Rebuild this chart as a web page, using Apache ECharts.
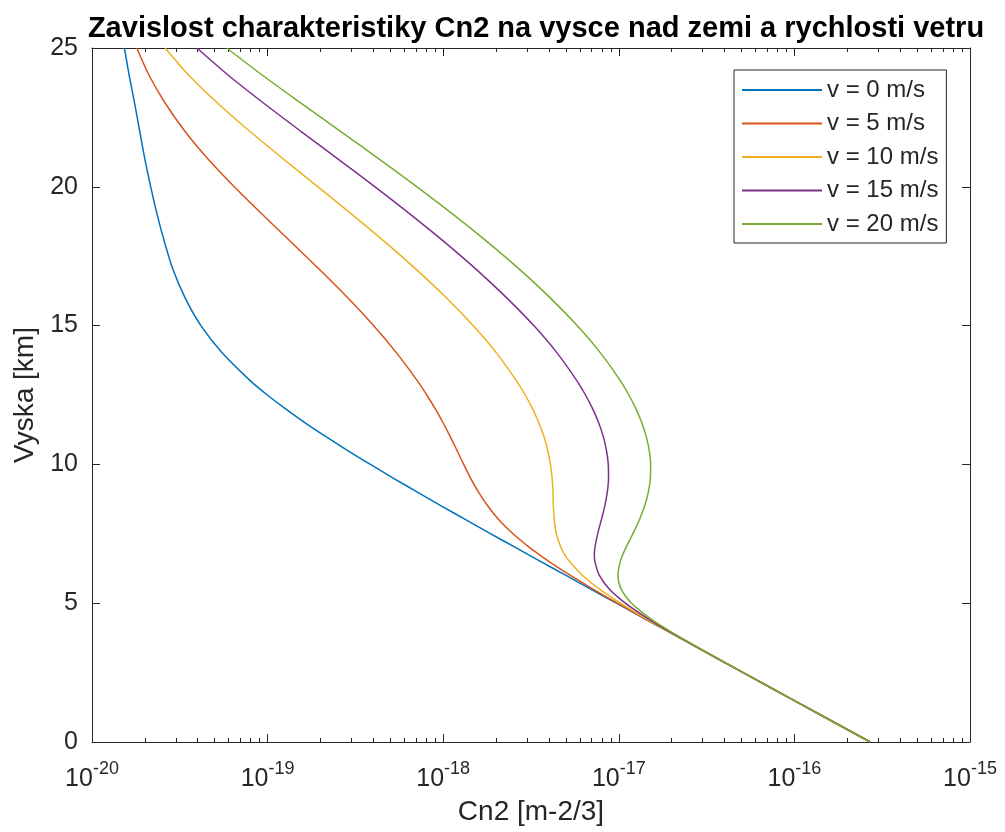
<!DOCTYPE html>
<html>
<head>
<meta charset="utf-8">
<script src="https://cdn.jsdelivr.net/npm/echarts@6/dist/echarts.min.js"></script>
<style>
  html, body { margin: 0; padding: 0; background: #fff; }
  #chart { width: 1005px; height: 832px; }
</style>
</head>
<body>
<div id="chart"></div>
<script>
// vyska nad zemi [km]
const heights = [0, 1, 2, 3, 4, 4.5, 5, 5.5, 6, 6.5, 6.75, 7, 7.5, 8, 8.5, 9, 9.5, 10, 10.5, 11, 11.5,
  12, 12.5, 13, 14, 15, 16, 17, 18, 19, 20, 21, 22, 23, 24, 25]

// Cn2 [m-2/3] pro jednotlive rychlosti vetru
const cn2V0 = [2.70e-16, 1.387e-16, 7.12e-17, 3.660e-17, 1.882e-17, 1.350e-17, 9.69e-18, 6.96e-18, 5.00e-18, 3.60e-18,
  3.05e-18, 2.59e-18, 1.867e-18, 1.350e-18, 9.79e-19, 7.13e-19, 5.22e-19, 3.85e-19, 2.86e-19, 2.15e-19, 1.635e-19,
  1.265e-19, 9.96e-20, 8.01e-20, 5.54e-20, 4.17e-20, 3.39e-20, 2.90e-20, 2.59e-20, 2.35e-20, 2.16e-20,
  2.00e-20, 1.87e-20, 1.75e-20, 1.63e-20, 1.53e-20]
const cn2V5 = [2.70e-16, 1.387e-16, 7.12e-17, 3.661e-17, 1.886e-17, 1.358e-17, 9.82e-18, 7.17e-18, 5.30e-18, 4.01e-18,
  3.52e-18, 3.11e-18, 2.50e-18, 2.08e-18, 1.795e-18, 1.589e-18, 1.434e-18, 1.309e-18, 1.199e-18, 1.097e-18, 9.98e-19,
  9.02e-19, 8.06e-19, 7.15e-19, 5.45e-19, 4.01e-19, 2.86e-19, 1.99e-19, 1.366e-19, 9.35e-20, 6.46e-20,
  4.58e-20, 3.38e-20, 2.62e-20, 2.12e-20, 1.80e-20]
const cn2V10 = [2.70e-16, 1.387e-16, 7.12e-17, 3.662e-17, 1.898e-17, 1.381e-17, 1.023e-17, 7.80e-18, 6.22e-18, 5.24e-18,
  4.92e-18, 4.69e-18, 4.41e-18, 4.29e-18, 4.24e-18, 4.22e-18, 4.17e-18, 4.08e-18, 3.94e-18, 3.75e-18, 3.50e-18,
  3.23e-18, 2.93e-18, 2.62e-18, 2.02e-18, 1.479e-18, 1.042e-18, 7.09e-19, 4.69e-19, 3.03e-19, 1.936e-19,
  1.230e-19, 7.91e-20, 5.22e-20, 3.58e-20, 2.61e-20]
const cn2V15 = [2.70e-16, 1.387e-16, 7.12e-17, 3.665e-17, 1.917e-17, 1.420e-17, 1.090e-17, 8.85e-18, 7.75e-18, 7.31e-18,
  7.26e-18, 7.31e-18, 7.58e-18, 7.95e-18, 8.32e-18, 8.60e-18, 8.74e-18, 8.71e-18, 8.51e-18, 8.16e-18, 7.68e-18,
  7.10e-18, 6.46e-18, 5.79e-18, 4.47e-18, 3.28e-18, 2.30e-18, 1.559e-18, 1.023e-18, 6.53e-19, 4.09e-19,
  2.52e-19, 1.545e-19, 9.55e-20, 6.02e-20, 3.96e-20]
const cn2V20 = [2.70e-16, 1.387e-16, 7.12e-17, 3.670e-17, 1.945e-17, 1.474e-17, 1.183e-17, 1.033e-17, 9.88e-18, 1.019e-17,
  1.054e-17, 1.098e-17, 1.202e-17, 1.309e-17, 1.403e-17, 1.473e-17, 1.512e-17, 1.518e-17, 1.490e-17, 1.433e-17, 1.352e-17,
  1.253e-17, 1.141e-17, 1.024e-17, 7.90e-18, 5.79e-18, 4.07e-18, 2.75e-18, 1.798e-18, 1.143e-18, 7.09e-19,
  4.32e-19, 2.60e-19, 1.561e-19, 9.43e-20, 5.85e-20]

const seriesNames = ['v = 0 m/s', 'v = 5 m/s', 'v = 10 m/s', 'v = 15 m/s', 'v = 20 m/s']
const seriesValues = [cn2V0, cn2V5, cn2V10, cn2V15, cn2V20]
const seriesColors = ['#0072BD', '#D95319', '#EDB120', '#7E2F8E', '#77AC30']

// osy
const xMajorExp = [-20, -19, -18, -17, -16, -15]
const xMinorExp = []
xMajorExp.slice(0, -1).forEach(e => {
  for (let m = 2; m < 10; m++) xMinorExp.push(e + Math.log10(m))
})
const yTicks = [0, 5, 10, 15, 20, 25]

const axisColor = '#262626'
const font = 'Liberation Sans, Arial, Helvetica, sans-serif'

const chart = echarts.init(document.getElementById('chart'), null, { renderer: 'canvas' })

const minorAxis = position => ({
  type: 'value',
  position,
  min: -20,
  max: -15,
  axisLine: { show: false },
  axisLabel: { show: false },
  splitLine: { show: false },
  axisTick: {
    inside: true,
    length: 4,
    customValues: xMinorExp,
    lineStyle: { color: axisColor, width: 1 }
  }
})

const option = {
  animation: false,
  backgroundColor: '#fff',
  title: {
    text: 'Zavislost charakteristiky Cn2 na vysce nad zemi a rychlosti vetru',
    left: 531,
    top: 9,
    textAlign: 'center',
    textStyle: { fontFamily: font, fontSize: 29, fontWeight: 'bold', color: '#000' }
  },
  legend: {
    orient: 'vertical',
    left: 734,
    top: 70,
    padding: [8, 8, 7, 8],
    itemWidth: 80,
    itemHeight: 2,
    itemGap: 9.5,
    icon: 'rect',
    borderColor: axisColor,
    borderWidth: 1,
    backgroundColor: '#fff',
    textStyle: { fontFamily: font, fontSize: 24, color: axisColor },
    data: seriesNames
  },
  grid: { left: 92, right: 35, top: 48, bottom: 90, containLabel: false, outerBoundsMode: 'none' },
  xAxis: [
    {
      type: 'log',
      logBase: 10,
      position: 'bottom',
      min: 1e-20,
      max: 1e-15,
      name: 'Cn2 [m-2/3]',
      nameLocation: 'middle',
      nameGap: 56,
      nameTextStyle: { fontFamily: font, fontSize: 28, color: axisColor },
      axisLine: { show: true, lineStyle: { color: axisColor, width: 1 } },
      axisTick: { inside: true, length: 8, lineStyle: { color: axisColor, width: 1 } },
      splitLine: { show: false },
      axisLabel: {
        margin: 18,
        formatter: v => '{b|10}{s|' + Math.round(Math.log10(v)) + '}',
        rich: {
          b: { fontFamily: font, fontSize: 25, color: axisColor, verticalAlign: 'bottom' },
          s: { fontFamily: font, fontSize: 18, color: axisColor, verticalAlign: 'bottom', padding: [0, 0, 14, 0] }
        }
      }
    },
    minorAxis('bottom'),
    {
      type: 'log',
      logBase: 10,
      position: 'top',
      min: 1e-20,
      max: 1e-15,
      axisLine: { show: true, lineStyle: { color: axisColor, width: 1 } },
      axisTick: { inside: true, length: 8, lineStyle: { color: axisColor, width: 1 } },
      axisLabel: { show: false },
      splitLine: { show: false }
    },
    minorAxis('top')
  ],
  yAxis: [
    {
      type: 'value',
      position: 'left',
      min: 0,
      max: 25,
      interval: 5,
      name: 'Vyska [km]',
      nameLocation: 'middle',
      nameGap: 50,
      nameTextStyle: { fontFamily: font, fontSize: 28, color: axisColor },
      axisLine: { show: true, lineStyle: { color: axisColor, width: 1 } },
      axisTick: { inside: true, length: 8, customValues: yTicks, lineStyle: { color: axisColor, width: 1 } },
      axisLabel: { margin: 14, fontFamily: font, fontSize: 25, color: axisColor, customValues: yTicks },
      splitLine: { show: false }
    },
    {
      type: 'value',
      position: 'right',
      min: 0,
      max: 25,
      interval: 5,
      axisLine: { show: true, lineStyle: { color: axisColor, width: 1 } },
      axisTick: { inside: true, length: 8, lineStyle: { color: axisColor, width: 1 } },
      axisLabel: { show: false },
      splitLine: { show: false }
    }
  ],
  series: seriesNames.map((name, i) => ({
    name,
    type: 'line',
    xAxisIndex: 0,
    yAxisIndex: 0,
    showSymbol: false,
    smooth: 0.3,
    clip: true,
    color: seriesColors[i],
    lineStyle: { width: 1.5, color: seriesColors[i] },
    data: heights.map((h, j) => [seriesValues[i][j], h])
  }))
}

chart.setOption(option)
</script>
</body>
</html>
